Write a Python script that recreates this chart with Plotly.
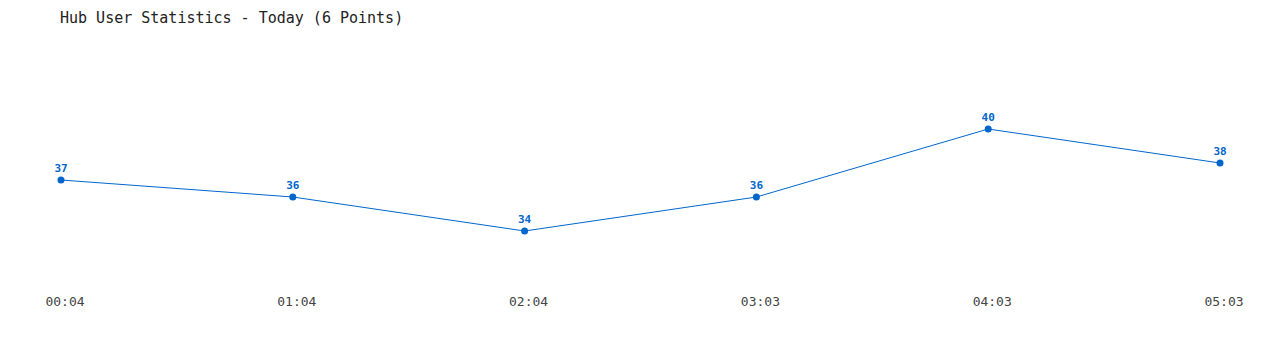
import plotly.graph_objects as go

times = ["00:04", "01:04", "02:04", "03:03", "04:03", "05:03"]
users = [37, 36, 34, 36, 40, 38]

blue = "#0066cc"

fig = go.Figure()
fig.add_trace(go.Scatter(
    x=times, y=users,
    mode="lines+markers+text",
    line=dict(color=blue, width=1),
    marker=dict(color=blue, size=7),
    text=[str(v) for v in users],
    textposition="top center",
    textfont=dict(family="DejaVu Sans Mono", size=11, color=blue, weight="bold"),
    cliponaxis=False,
    hoverinfo="x+y",
))

fig.update_layout(
    width=1280, height=350,
    margin=dict(l=61, r=60, t=78, b=68),
    paper_bgcolor="white", plot_bgcolor="white",
    showlegend=False,
    title=dict(
        text="Hub User Statistics - Today (6 Points)",
        x=60 / 1280, xanchor="left", xref="container",
        y=1 - 18 / 350, yanchor="middle", yref="container",
        font=dict(family="DejaVu Sans Mono", size=15, color="#222"),
    ),
    font=dict(family="DejaVu Sans Mono"),
)
fig.update_xaxes(
    type="category", range=[0, 5], showgrid=False, zeroline=False,
    showline=False, ticks="", tickfont=dict(family="DejaVu Sans Mono", size=13, color="#444"),
    ticklabelstandoff=10, ticklabelshift=4,
)
fig.update_yaxes(
    range=[31, 43], showgrid=False, zeroline=False, showline=False,
    showticklabels=False, ticks="",
)

fig.write_html("out.html")
